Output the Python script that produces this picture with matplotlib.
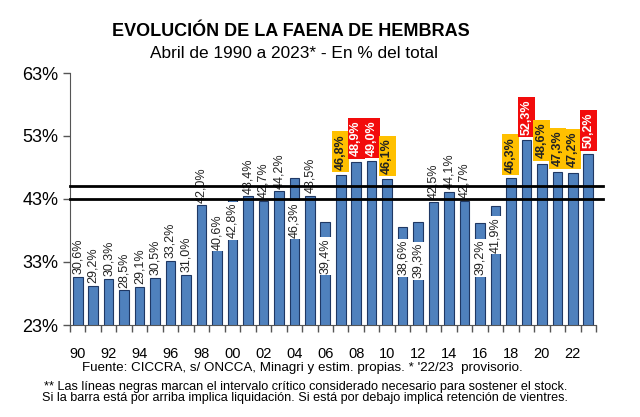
import matplotlib.pyplot as plt
import numpy as np

plt.rcParams['font.family'] = ['Liberation Sans', 'DejaVu Sans']

years = list(range(1990, 2024))
share = [30.6, 29.2, 30.3, 28.5, 29.1, 30.5, 33.2, 31.0, 42.0, 40.6,
         42.8, 43.4, 42.7, 44.2, 46.3, 43.5, 39.4, 46.8, 48.9, 49.0,
         46.1, 38.6, 39.3, 42.5, 44.1, 42.7, 39.2, 41.9, 46.3, 52.3,
         48.6, 47.3, 47.2, 50.2]
critical_low = 43
critical_high = 45
orange_years = [2007, 2010, 2018, 2020, 2021, 2022]
red_years = [2008, 2009, 2019, 2023]
# top of the label for bars whose label sits inside the bar
inside_tops = {1999: 40.6, 2000: 42.4, 2004: 42.5, 2006: 36.8,
               2011: 36.5, 2012: 36.0, 2016: 36.5, 2017: 40.1}
y_ticks = [23, 33, 43, 53, 63]

fig = plt.figure(figsize=(6.4, 4.17), dpi=100)
ax = fig.add_axes([70 / 640, 92 / 417, 526 / 640, 252 / 417])

x = np.arange(len(years))
ax.bar(x, share, width=0.62, bottom=0, color='#4F81BD', edgecolor='#1F3864',
       linewidth=0.8, zorder=2)

ax.set_xlim(-0.5, len(years) - 0.5)
ax.set_ylim(23, 63)

for xi, yr, v in zip(x, years, share):
    txt = f'{v:.1f}%'.replace('.', ',')
    if yr in inside_tops:
        ax.text(xi, inside_tops[yr], txt, rotation=90, ha='center', va='top',
                fontsize=9, color='#222222', zorder=3,
                bbox=dict(boxstyle='square,pad=0.1', fc='white', ec='none'))
    elif yr in red_years:
        ax.annotate(txt, (xi, v), xytext=(0, 4), textcoords='offset points',
                    rotation=90, ha='center', va='bottom', fontsize=9,
                    fontweight='bold', color='white', zorder=3,
                    bbox=dict(boxstyle='square,pad=0.2', fc='#F20C0C', ec='none'))
    elif yr in orange_years:
        ax.annotate(txt, (xi, v), xytext=(0, 4), textcoords='offset points',
                    rotation=90, ha='center', va='bottom', fontsize=9,
                    fontweight='bold', color='#222222', zorder=3,
                    bbox=dict(boxstyle='square,pad=0.2', fc='#FFC000', ec='none'))
    else:
        ax.annotate(txt, (xi, v), xytext=(0, 2), textcoords='offset points',
                    rotation=90, ha='center', va='bottom', fontsize=9,
                    color='#222222', zorder=3)

# critical interval lines
for lvl in (critical_low, critical_high):
    ax.axhline(lvl, xmin=0, xmax=1.013, color='black', linewidth=2,
               clip_on=False, zorder=4)

ax.set_yticks(y_ticks)
ax.set_yticklabels([f'{t}%' for t in y_ticks], fontsize=13)
ax.tick_params(axis='y', direction='out', length=5, width=1, color='#555555')

ax.set_xticks(x[::2])
ax.set_xticklabels([f'{y % 100:02d}' for y in years[::2]], fontsize=10.5)
ax.set_xticks(np.arange(-0.5, len(years), 1), minor=True)
ax.tick_params(axis='x', which='major', length=0, pad=16)
ax.tick_params(axis='x', which='minor', direction='out', length=5, width=1,
               color='#555555')

for s in ('top', 'right'):
    ax.spines[s].set_visible(False)
ax.spines['left'].set_color('#555555')
ax.spines['bottom'].set_color('#555555')

fig.text(0.455, 0.925, 'EVOLUCIÓN DE LA FAENA DE HEMBRAS', ha='center',
         va='center', fontsize=13, fontweight='bold')
fig.text(0.459, 0.872, 'Abril de 1990 a 2023* - En % del total', ha='center',
         va='center', fontsize=12.4)
fig.text(0.472, 0.118, "Fuente: CICCRA, s/ ONCCA, Minagri y estim. propias. * '22/23  provisorio.",
         ha='center', va='center', fontsize=9.6)
fig.text(0.477, 0.058, '** Las líneas negras marcan el intervalo crítico considerado necesario para sostener el stock.\n'
         'Si la barra está por arriba implica liquidación. Si está por debajo implica retención de vientres.',
         ha='center', va='center', fontsize=9.1, linespacing=0.9)

fig.savefig('out.png', dpi=100)
